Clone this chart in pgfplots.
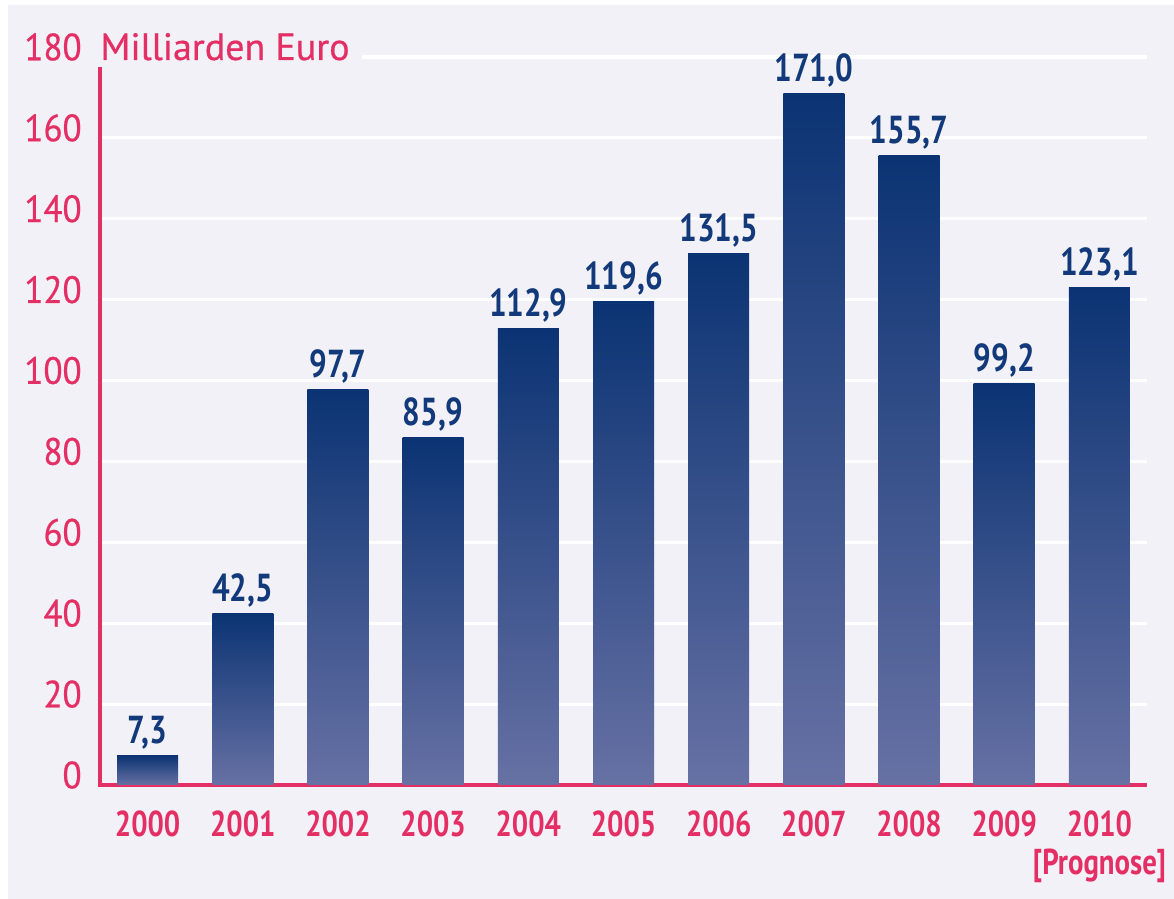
\documentclass[border=0pt]{standalone}
\usepackage{fontspec}
\setmainfont{PT Sans}
\newfontfamily\cond[FakeStretch=0.8]{PT Sans}
\newfontfamily\tickf[FakeStretch=0.92, FakeBold=0.6]{PT Sans}
\newfontfamily\titlef[FakeBold=0.6]{PT Sans}
\usepackage{pgfplots}
\pgfplotsset{compat=1.18}
\definecolor{bg}{HTML}{F3F1F8}
\definecolor{pinkc}{HTML}{E42F64}
\definecolor{bartop}{HTML}{0B3373}
\definecolor{barbot}{HTML}{6771A4}
\definecolor{valc}{HTML}{12397A}
\pgfplotsset{gbar/.style={draw=none, top color=bartop, bottom color=barbot, bar shift=0pt}}
\begin{document}
\begin{tikzpicture}
\fill[white] (-50pt,-57pt) rectangle (537pt,392.5pt);
\fill[bg] (-46pt,-57pt) rectangle (537pt,390pt);
\begin{axis}[
  at={(0,0)}, anchor=south west,
  scale only axis, width=523.5pt, height=364pt,
  xmin=-0.5, xmax=10.5, ymin=0, ymax=180,
  enlargelimits=false, clip=false,
  axis x line=bottom, axis y line=left,
  x axis line style={pinkc, line width=2pt, -},
  y axis line style={draw=none},
  ytick={0,20,...,180}, xtick={0,...,10},
  xticklabels={2000,2001,2002,2003,2004,2005,2006,2007,2008,2009,{2010\\{[Prognose]}}},
  ymajorgrids, major grid style={white, line width=1.6pt},
  major tick length=0pt,
  yticklabel style={pinkc, font=\tickf\fontsize{19}{19}\selectfont, anchor=east, inner sep=0pt, xshift=-9pt, yshift=5pt},
  xticklabel style={pinkc, font=\cond\bfseries\fontsize{18}{19}\selectfont, anchor=north, inner sep=0pt, yshift=-12.5pt, align=center},
  /pgf/number format/assume math mode=true,
  ybar, bar width=30.5pt,
  nodes near coords, point meta=explicit symbolic,
  every node near coord/.append style={valc, font=\cond\bfseries\fontsize{19.5}{19}\selectfont, anchor=base, yshift=6pt, inner sep=0pt},
]
\addplot[gbar] coordinates {(0,7.3) [7,3]};
\addplot[gbar] coordinates {(1,42.5) [42,5]};
\addplot[gbar] coordinates {(2,97.7) [97,7]};
\addplot[gbar] coordinates {(3,85.9) [85,9]};
\addplot[gbar] coordinates {(4,112.9) [112,9]};
\addplot[gbar] coordinates {(5,119.6) [119,6]};
\addplot[gbar] coordinates {(6,131.5) [131,5]};
\addplot[gbar] coordinates {(7,171.0) [171,0]};
\addplot[gbar] coordinates {(8,155.7) [155,7]};
\addplot[gbar] coordinates {(9,99.2) [99,2]};
\addplot[gbar] coordinates {(10,123.1) [123,1]};
\end{axis}
\fill[bg] (-1.5pt,359pt) rectangle (131pt,380pt);
\draw[pinkc, line width=2pt] (0,-1pt) -- (0,359pt);
\node[anchor=base west, pinkc, font=\titlef\fontsize{19}{19}\selectfont, inner sep=0pt] at (0,362.5pt) {Milliarden Euro};
\end{tikzpicture}
\end{document}
